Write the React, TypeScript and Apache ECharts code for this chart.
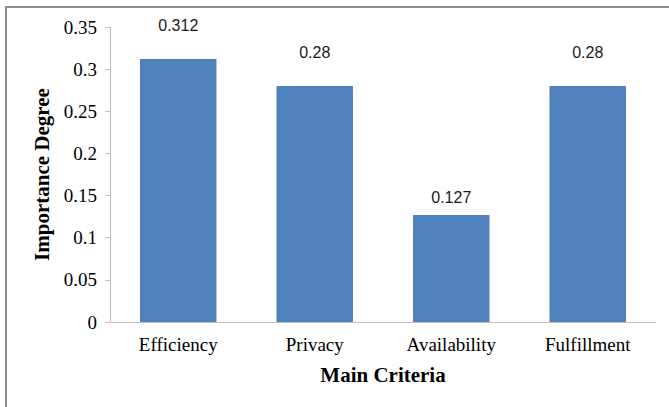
import React, { useEffect, useRef } from "react";
import * as echarts from "echarts";

const categories = ["Efficiency", "Privacy", "Availability", "Fulfillment"];
const importance = [0.312, 0.28, 0.127, 0.28];
const labelGaps = [26, 26, 9, 26];
const yTicks = { min: 0, max: 0.35, interval: 0.05 };

export default function App() {
  const ref = useRef<HTMLDivElement>(null);

  useEffect(() => {
    if (!ref.current) return;
    const chart = echarts.init(ref.current, null, { renderer: "svg" });
    chart.setOption({
      animation: false,
      backgroundColor: "#ffffff",
      graphic: [
        {
          type: "rect",
          shape: { x: 6, y: 7, width: 720, height: 460 },
          style: { fill: "none", stroke: "#8a8a8a", lineWidth: 2 },
          silent: true,
        },
      ],
      grid: { left: 110, right: 13, top: 27, bottom: 85 },
      xAxis: {
        type: "category",
        data: categories,
        name: "Main Criteria",
        nameLocation: "middle",
        nameGap: 42,
        nameTextStyle: {
          fontFamily: "Liberation Serif",
          fontWeight: "bold",
          fontSize: 21,
          color: "#000",
        },
        axisLine: { lineStyle: { color: "#bfbfbf", width: 1 } },
        axisTick: { show: false },
        axisLabel: {
          fontFamily: "Liberation Serif",
          fontSize: 19,
          color: "#000",
          margin: 13,
        },
      },
      yAxis: {
        type: "value",
        min: yTicks.min,
        max: yTicks.max,
        interval: yTicks.interval,
        name: "Importance Degree",
        nameLocation: "middle",
        nameGap: 58,
        nameRotate: 90,
        nameTextStyle: {
          fontFamily: "Liberation Serif",
          fontWeight: "bold",
          fontSize: 21,
          color: "#000",
        },
        axisLine: { show: true, lineStyle: { color: "#bfbfbf", width: 1 } },
        axisTick: { show: true, length: 5, lineStyle: { color: "#bfbfbf" } },
        splitLine: { show: false },
        axisLabel: {
          fontFamily: "Liberation Serif",
          fontSize: 19,
          color: "#000",
          margin: 13,
          formatter: (v: number) => String(parseFloat(v.toFixed(2))),
        },
      },
      series: [
        {
          type: "bar",
          barWidth: "56%",
          itemStyle: { color: "#4f81bd" },
          data: importance.map((v, i) => ({
            value: v,
            label: { distance: labelGaps[i] },
          })),
          label: {
            show: true,
            position: "top",
            fontFamily: "Liberation Sans",
            fontSize: 16,
            color: "#1a1a1a",
            formatter: (p: any) => String(p.value),
          },
        },
      ],
    });
    return () => chart.dispose();
  }, []);

  return (
    <div
      ref={ref}
      style={{ position: "fixed", left: 0, top: 0, width: 669, height: 407 }}
    />
  );
}
